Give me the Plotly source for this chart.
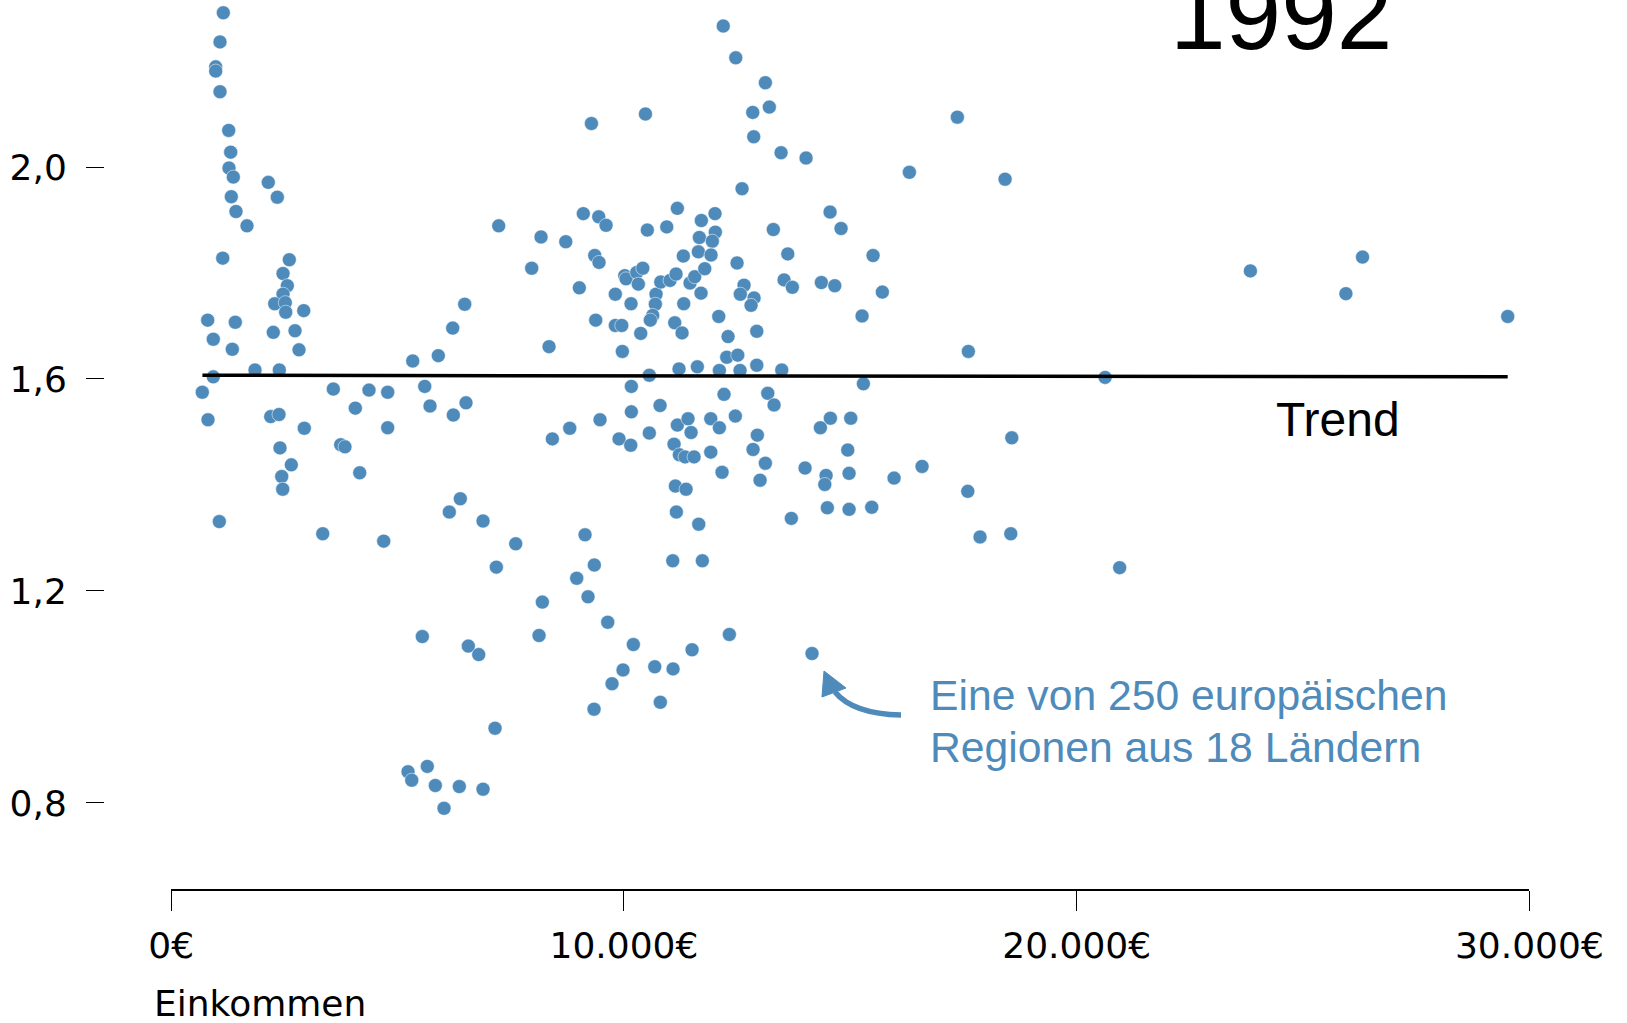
import plotly.graph_objects as go

# ---- data -------------------------------------------------------------
einkommen = [
    1151, 1078, 983, 983, 1078, 1270, 1314, 1277, 1372, 1328, 1431, 1674, 1138, 2145, 2344,
    2609, 2470, 2565, 2470, 2286, 2520, 2529, 2927, 2255, 2735, 2823, 806, 930, 1416, 1350,
    1851, 2388, 930, 687, 3581, 4369, 4782, 4067, 5335, 5900, 6218, 6483, 5600, 5717, 6232,
    6512, 813, 2198, 2381, 2940, 4782,
    2403, 3744, 3839, 2653, 2441, 2463, 4164, 6386, 6143, 6888, 1063, 3347, 4694, 5547, 6563,
    6793, 5231, 5313, 5657, 5834, 6364, 6888, 6026,
    7234, 8169, 8715, 7963, 9103, 9443, 9605, 9355, 9450, 9015, 10517, 10946, 11180, 11710,
    12012, 12019, 11666, 11953, 11312, 11644, 11924, 12499, 12609, 10018, 10047, 10283, 10416,
    10318, 9810, 10157, 10709, 10694, 10813, 11019, 11151, 11460, 11564, 11785, 11703, 11321,
    12653, 12571, 9377, 9810, 9952, 10636, 10583, 10371, 9965, 8346, 11122, 11284, 12094,
    12300, 12271, 12514, 11217, 11622, 12108, 12565, 10561, 10164, 12211, 10798, 10164, 9472,
    8803, 8419, 9892, 10150, 10561, 11180, 11416, 11483, 11918, 12108, 12461, 11107, 11224,
    11350, 11549, 11918, 12167, 11136, 11372, 11158,
    9282, 10475, 12194,
    12470, 13124, 12845, 13212, 12867, 13471, 14023, 17365, 16305, 18419, 14553, 14796, 13300,
    13619, 15503, 12874, 13537, 13720, 14361, 14657, 15708,
    12808, 15260, 12934, 12934, 13486, 17608, 15289, 13177, 13316, 12947, 12852, 13124, 13007,
    14560, 15010, 14339, 14944, 14001, 14465, 14436, 14973, 15967, 16585, 18567, 17595, 13698,
    14493, 14973, 15474, 17866, 18545,
    11652, 7610, 7182, 9141, 9346, 8957, 9207, 11078, 11732, 8198, 8125, 9642, 10208, 9980,
    9737, 9340, 10681, 11085, 10804, 11505, 12329, 7153,
    14155, 23837, 25947, 26314, 29521, 20628, 20950,
]

verhaeltnis = [
    2.291, 2.236, 2.189, 2.181, 2.142, 2.069, 2.028, 1.998, 1.981, 1.944, 1.916, 1.889, 1.828,
    1.971, 1.943, 1.825, 1.799, 1.776, 1.760, 1.742, 1.744, 1.726, 1.729, 1.688, 1.691, 1.655,
    1.711, 1.675, 1.707, 1.656, 1.617, 1.617, 1.604, 1.575, 1.581, 1.579, 1.575, 1.545, 1.634,
    1.644, 1.696, 1.741, 1.586, 1.549, 1.532, 1.555, 1.523, 1.529, 1.533, 1.507, 1.508,
    1.470, 1.476, 1.472, 1.438, 1.416, 1.392, 1.423, 1.374, 1.349, 1.332, 1.331, 1.308, 1.294,
    1.114, 1.096, 1.080, 0.859, 0.843, 0.869, 0.833, 0.831, 0.826, 0.790,
    1.889, 1.868, 1.859, 1.809, 1.912, 1.906, 1.890, 1.833, 1.820, 1.772, 1.881, 1.887, 1.922,
    1.899, 1.912, 1.877, 1.867, 1.860, 1.832, 1.840, 1.834, 1.819, 1.959, 1.795, 1.789, 1.801,
    1.809, 1.779, 1.760, 1.742, 1.760, 1.741, 1.783, 1.786, 1.798, 1.781, 1.793, 1.808, 1.762,
    1.742, 1.777, 1.760, 1.711, 1.701, 1.701, 1.720, 1.711, 1.686, 1.652, 1.661, 1.706, 1.687,
    1.718, 1.680, 1.641, 1.645, 1.619, 1.623, 1.616, 1.616, 1.607, 1.586, 1.571, 1.550, 1.538,
    1.523, 1.507, 1.487, 1.487, 1.475, 1.498, 1.513, 1.525, 1.499, 1.525, 1.508, 1.530, 1.477,
    1.457, 1.453, 1.453, 1.462, 1.424, 1.398, 1.392, 1.349,
    2.082, 2.100, 2.266,
    2.206, 2.159, 2.103, 2.113, 2.057, 2.027, 2.017, 2.094, 1.990, 1.977, 1.915, 1.884, 1.882,
    1.836, 1.833, 1.753, 1.787, 1.773, 1.782, 1.776, 1.764,
    1.739, 1.719, 1.690, 1.626, 1.617, 1.652, 1.591, 1.573, 1.551, 1.494, 1.467, 1.441, 1.409,
    1.526, 1.526, 1.508, 1.466, 1.432, 1.418, 1.401, 1.422, 1.413, 1.435, 1.489, 1.388, 1.337,
    1.357, 1.354, 1.358, 1.302, 1.308,
    1.326, 1.289, 1.245, 1.306, 1.249, 1.224, 1.189, 1.257, 1.257, 1.179, 1.116, 1.141, 1.099,
    1.051, 1.025, 0.977, 1.057, 1.053, 0.990, 1.089, 1.118, 0.941,
    1.082, 1.804, 1.761, 1.830, 1.718, 1.603, 1.244,
]

trend_x = [690, 29520]
trend_y = [1.607, 1.604]

x_tickvals = [0, 10000, 20000, 30000]
x_ticktext = ["0€", "10.000€", "20.000€", "30.000€"]
y_tickvals = [0.8, 1.2, 1.6, 2.0]
y_ticktext = ["0,8", "1,2", "1,6", "2,0"]

titel = "1992"
x_titel = "Einkommen"
trend_label = "Trend"
hinweis = ["Eine von 250 europäischen", "Regionen aus 18 Ländern"]

# ---- layout geometry ---------------------------------------------------
W, H = 1627, 1023
MB = 134                     # bottom margin
PH = H - MB                  # plot height in px
BLUE = "#4E8BBB"
FONT = "Liberation Sans"
AXFONT = "DejaVu Sans"


def px(xp):
    return xp / W


def py(yp):
    return 1 - yp / PH


fig = go.Figure()

fig.add_trace(go.Scatter(
    x=einkommen, y=verhaeltnis, mode="markers",
    marker=dict(size=14, color=BLUE, line=dict(color="white", width=0.5)),
    hoverinfo="x+y", showlegend=False,
))

fig.add_trace(go.Scatter(
    x=trend_x, y=trend_y, mode="lines",
    line=dict(color="black", width=3.5), showlegend=False, hoverinfo="skip",
))

# curved arrow (decoration, in paper coordinates derived from pixels)
arrow_path = "M {:.5f},{:.5f} Q {:.5f},{:.5f} {:.5f},{:.5f}".format(
    px(901), py(715), px(853), py(714), px(835), py(692))
head_path = "M {:.5f},{:.5f} L {:.5f},{:.5f} L {:.5f},{:.5f} Z".format(
    px(824), py(671), px(846), py(688), px(822), py(697))

shapes = [
    dict(type="path", path=arrow_path, xref="paper", yref="paper",
         line=dict(color=BLUE, width=5.5), fillcolor="rgba(0,0,0,0)"),
    dict(type="path", path=head_path, xref="paper", yref="paper",
         line=dict(color=BLUE, width=1), fillcolor=BLUE),
]

annotations = [
    dict(text=titel, x=px(1281), y=py(14), xref="paper", yref="paper",
         xanchor="center", yanchor="middle", showarrow=False,
         font=dict(family=FONT, size=100, color="black")),
    dict(text=trend_label, x=px(1338), y=py(419), xref="paper", yref="paper",
         xanchor="center", yanchor="middle", showarrow=False,
         font=dict(family=FONT, size=48, color="black")),
    dict(text=hinweis[0], x=px(928), y=py(695), xref="paper", yref="paper",
         xanchor="left", yanchor="middle", showarrow=False,
         font=dict(family=FONT, size=42.7, color=BLUE)),
    dict(text=hinweis[1], x=px(928), y=py(747), xref="paper", yref="paper",
         xanchor="left", yanchor="middle", showarrow=False,
         font=dict(family=FONT, size=42.7, color=BLUE)),
    dict(text=x_titel, x=px(152), y=py(1003.5), xref="paper", yref="paper",
         xanchor="left", yanchor="middle", showarrow=False,
         font=dict(family=AXFONT, size=36, color="black")),
]

fig.update_layout(
    width=W, height=H,
    margin=dict(l=0, r=0, t=0, b=MB, pad=0, autoexpand=False),
    paper_bgcolor="white", plot_bgcolor="white",
    showlegend=False,
    shapes=shapes,
    annotations=annotations,
    xaxis=dict(
        domain=[171.2 / W, 1529.4 / W], range=[0, 30000],
        automargin=False,
        tickvals=x_tickvals, ticktext=x_ticktext,
        showline=True, linecolor="black", linewidth=2,
        ticks="outside", ticklen=20, tickwidth=1.3, tickcolor="black",
        showgrid=False, zeroline=False,
        tickfont=dict(family=AXFONT, size=36, color="black"),
        ticklabelstandoff=4,
    ),
    yaxis=dict(
        domain=[0, 1], range=[0.6377, 2.3151],
        automargin=False,
        anchor="free", position=104 / W,
        tickvals=y_tickvals, ticktext=y_ticktext,
        showline=False, ticks="outside", ticklen=18, tickwidth=1.3, tickcolor="black",
        showgrid=False, zeroline=False,
        tickfont=dict(family=AXFONT, size=36, color="black"),
        ticklabelstandoff=12,
    ),
)

fig.write_html(
    "out.html",
    config={"displayModeBar": False},
    post_script="document.body.style.margin='0';document.body.style.overflow='hidden';",
)
